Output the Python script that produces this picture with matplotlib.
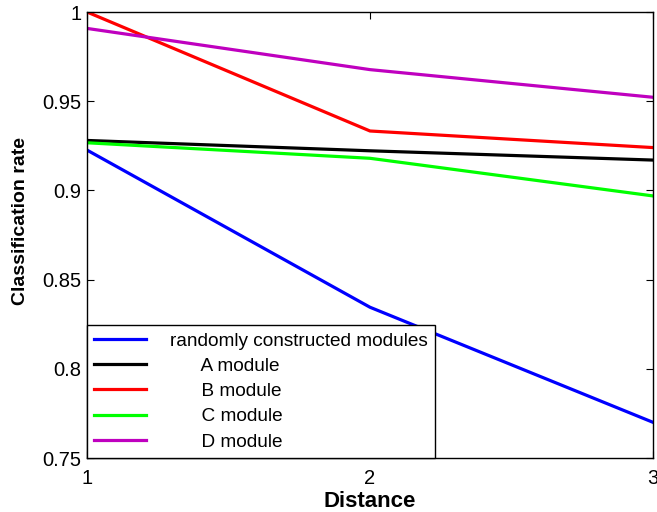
import numpy as np
import matplotlib.pyplot as plt

plt.rcParams['font.family'] = ['Liberation Sans', 'DejaVu Sans']

distance = [1, 2, 3]
random_mod = [0.9226, 0.8345, 0.7700]
a_mod = [0.9280, 0.9222, 0.9170]
b_mod = [1.0000, 0.9333, 0.9240]
c_mod = [0.9267, 0.9180, 0.8969]
d_mod = [0.9908, 0.9677, 0.9522]

labels = ['randomly constructed modules', '      A module', '      B module',
          '      C module', '      D module']
colors = ['#0000ff', '#000000', '#ff0000', '#00ff00', '#bf00bf']

fig = plt.figure(figsize=(6.57, 5.12), dpi=100)
ax = fig.add_axes([87/657, 1 - 458/512, (653-87)/657, (458-12)/512])

for ys, lab, col in zip([random_mod, a_mod, b_mod, c_mod, d_mod], labels, colors):
    ax.plot(distance, ys, color=col, lw=2.3, label=lab)

ax.set_xlim(1, 3)
ax.set_ylim(0.75, 1)
ax.set_xticks([1, 2, 3])
ax.set_xticklabels(['1', '2', '3'])
ax.set_yticks([0.75, 0.8, 0.85, 0.9, 0.95, 1])
ax.set_yticklabels(['0.75', '0.8', '0.85', '0.9', '0.95', '1'])
ax.tick_params(direction='in', top=True, right=True, labelsize=14.5, length=5, width=0.8)
ax.tick_params(axis='y', pad=4)
ax.tick_params(axis='x', pad=8)
for s in ax.spines.values():
    s.set_linewidth(1.0)

ax.set_xlabel('Distance', fontsize=16, fontweight='bold', labelpad=2)
ax.set_ylabel('Classification rate', fontsize=14, fontweight='bold')
ax.yaxis.set_label_coords(-0.1025, 0.531)

leg = ax.legend(loc='lower left', bbox_to_anchor=(0, 0), borderaxespad=0, fontsize=13.7,
                fancybox=False, edgecolor='black', framealpha=1, handlelength=2.7,
                handletextpad=1.3, labelspacing=0.42, borderpad=0.38)
leg.get_frame().set_linewidth(1.0)

fig.savefig('out.png', dpi=100)
